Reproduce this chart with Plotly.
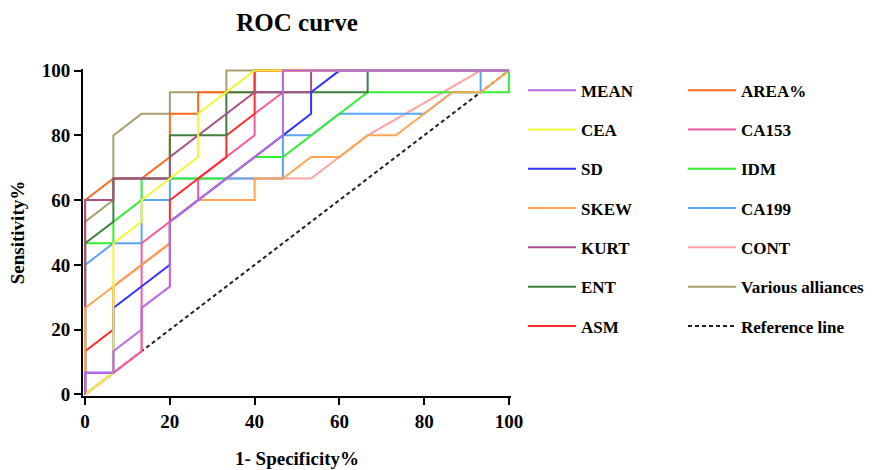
import plotly.graph_objects as go

# ROC curve coordinates (1-Specificity %, Sensitivity %)
MEAN_x = [0, 0, 6.67, 6.67, 13.33, 13.33, 20, 20, 46.67, 46.67, 100]
MEAN_y = [0, 6.67, 6.67, 13.33, 20, 26.67, 33.33, 53.33, 80, 100, 100]

CEA_x = [0, 6.67, 6.67, 13.33, 13.33, 26.67, 26.67, 40, 100]
CEA_y = [0, 6.67, 46.67, 53.33, 60, 73.33, 86.67, 100, 100]

SD_x = [0, 0, 6.67, 6.67, 20, 20, 46.67, 53.33, 53.33, 60, 100]
SD_y = [0, 6.67, 6.67, 26.67, 40, 53.33, 80, 86.67, 93.33, 100, 100]

SKEW_x = [0, 0, 6.67, 20, 20, 26.67, 40, 40, 46.67, 53.33, 60, 66.67, 73.33, 80, 86.67, 93.33, 100]
SKEW_y = [0, 26.67, 33.33, 46.67, 53.33, 60, 60, 66.67, 66.67, 73.33, 73.33, 80, 80, 86.67, 93.33, 93.33, 100]

KURT_x = [0, 0, 6.67, 6.67, 20, 20, 40, 53.33, 53.33, 100]
KURT_y = [0, 60, 60, 66.67, 66.67, 73.33, 93.33, 93.33, 100, 100]

ENT_x = [0, 0, 6.67, 6.67, 20, 20, 33.33, 33.33, 66.67, 66.67, 100]
ENT_y = [0, 46.67, 53.33, 66.67, 66.67, 80, 80, 93.33, 93.33, 100, 100]

ASM_x = [0, 0, 6.67, 6.67, 20, 20, 33.33, 33.33, 40, 40, 100]
ASM_y = [0, 13.33, 20, 33.33, 46.67, 60, 73.33, 80, 86.67, 100, 100]

AREA_x = [0, 0, 6.67, 13.33, 20, 20, 26.67, 26.67, 40, 40, 100]
AREA_y = [0, 60, 66.67, 66.67, 73.33, 86.67, 86.67, 93.33, 93.33, 100, 100]

CA153_x = [0, 6.67, 13.33, 13.33, 26.67, 26.67, 40, 40, 46.67, 46.67, 100]
CA153_y = [0, 6.67, 13.33, 46.67, 60, 66.67, 80, 86.67, 93.33, 100, 100]

IDM_x = [0, 0, 6.67, 6.67, 13.33, 13.33, 33.33, 40, 46.67, 66.67, 100, 100]
IDM_y = [0, 46.67, 46.67, 53.33, 60, 66.67, 66.67, 73.33, 73.33, 93.33, 93.33, 100]

CA199_x = [0, 0, 6.67, 13.33, 13.33, 20, 20, 46.67, 46.67, 53.33, 60, 80, 86.67, 93.33, 93.33, 100]
CA199_y = [0, 40, 46.67, 46.67, 60, 60, 66.67, 66.67, 80, 80, 86.67, 86.67, 93.33, 93.33, 100, 100]

CONT_x = [0, 6.67, 13.33, 13.33, 20, 20, 33.33, 53.33, 66.67, 93.33, 100]
CONT_y = [0, 6.67, 13.33, 26.67, 33.33, 53.33, 66.67, 66.67, 80, 100, 100]

VA_x = [0, 0, 6.67, 6.67, 13.33, 20, 20, 33.33, 33.33, 100]
VA_y = [0, 53.33, 60, 80, 86.67, 86.67, 93.33, 93.33, 100, 100]

REF_x = [0, 100]
REF_y = [0, 100]

x_ticks = [0, 20, 40, 60, 80, 100]
y_ticks = [0, 20, 40, 60, 80, 100]

series = [
    ("MEAN", MEAN_x, MEAN_y, "#B96AE6", "legend"),
    ("CEA", CEA_x, CEA_y, "#F4F43A", "legend"),
    ("SD", SD_x, SD_y, "#3535F5", "legend"),
    ("SKEW", SKEW_x, SKEW_y, "#FFA655", "legend"),
    ("KURT", KURT_x, KURT_y, "#A9508A", "legend"),
    ("ENT", ENT_x, ENT_y, "#3F7F3F", "legend"),
    ("ASM", ASM_x, ASM_y, "#FF2B2B", "legend"),
    ("AREA%", AREA_x, AREA_y, "#FF6A1F", "legend2"),
    ("CA153", CA153_x, CA153_y, "#F55AA2", "legend2"),
    ("IDM", IDM_x, IDM_y, "#33EE33", "legend2"),
    ("CA199", CA199_x, CA199_y, "#5AA5F5", "legend2"),
    ("CONT", CONT_x, CONT_y, "#FFA3A3", "legend2"),
    ("Various alliances", VA_x, VA_y, "#A79E6E", "legend2"),
]

FONT = "Liberation Serif"

fig = go.Figure()

fig.add_trace(go.Scatter(
    x=REF_x, y=REF_y, mode="lines", name="Reference line",
    line=dict(color="#222222", width=2, dash="4px,3px"),
    legend="legend2", legendgroup="ref", legendrank=1014,
))

for i, (name, xs, ys, col, lg) in reversed(list(enumerate(series))):
    fig.add_trace(go.Scatter(
        x=xs, y=ys, mode="lines", name=name,
        line=dict(color=col, width=2),
        legend=lg, legendgroup=name, legendrank=1000 + i,
    ))

legend_common = dict(
    font=dict(family=FONT, size=17, color="black", weight="bold"),
    bgcolor="rgba(0,0,0,0)", tracegroupgap=14.2, itemwidth=48,
    traceorder="grouped", yanchor="top", xanchor="left",
)

PL, PW = 83, 428
PT, PH = 69.4, 326.2

fig.update_layout(
    width=893, height=470,
    margin=dict(l=PL, r=893 - PL - PW, t=PT, b=470 - PT - PH),
    paper_bgcolor="white", plot_bgcolor="white",
    title=dict(text="<b>ROC curve</b>", x=0.5, xref="paper", xanchor="center",
               y=1 - 22 / 470, yanchor="middle",
               font=dict(family=FONT, size=25, color="black")),
    legend=dict(x=(523 - PL) / PW, y=(PT + PH - 73) / PH, **legend_common),
    legend2=dict(x=(683 - PL) / PW, y=(PT + PH - 73) / PH, **legend_common),
    xaxis=dict(range=[-0.5, 100.5], tickvals=x_ticks, ticks="outside", ticklen=7,
               tickwidth=2, tickcolor="black", showline=True, linewidth=2,
               linecolor="black", showgrid=False, zeroline=False, automargin=False,
               tickfont=dict(family=FONT, size=19, color="black", weight="bold"),
               title=dict(text="1- Specificity%", standoff=21,
                          font=dict(family=FONT, size=19, color="black", weight="bold"))),
    yaxis=dict(range=[-0.5, 100.5], tickvals=y_ticks, ticks="outside", ticklen=7,
               tickwidth=2, tickcolor="black", showline=True, linewidth=2,
               linecolor="black", showgrid=False, zeroline=False, automargin=False,
               tickfont=dict(family=FONT, size=19, color="black", weight="bold"),
               title=dict(text="Sensitivity%", standoff=12,
                          font=dict(family=FONT, size=19, color="black", weight="bold"))),
)

fig.write_html("out.html", config={"displayModeBar": False},
               post_script="document.body.style.margin='0';")
